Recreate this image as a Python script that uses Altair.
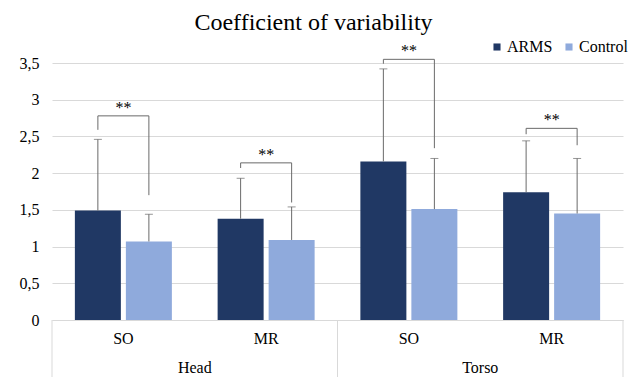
import altair as alt
import pandas as pd

# ---- data ----
regions = ["Head", "Head", "Torso", "Torso"]
measures = ["SO", "MR", "SO", "MR"]
series = ["ARMS", "Control"]
arms_mean = [1.49, 1.38, 2.16, 1.74]
arms_err = [0.97, 0.55, 1.26, 0.70]
control_mean = [1.07, 1.09, 1.51, 1.45]
control_err = [0.37, 0.45, 0.69, 0.75]
bracket_top = [2.78, 2.14, 3.55, 2.61]
bracket_left_bottom = [2.59, 2.07, 3.49, 2.53]
bracket_right_bottom = [1.70, 1.60, 2.34, 2.38]
sig_label = ["**", "**", "**", "**"]
y_ticks = [0, 0.5, 1, 1.5, 2, 2.5, 3, 3.5]

FONT = "Times New Roman"
DARK = "#203864"
LIGHT = "#8faadc"
GRID = "#d9d9d9"
ERR = "#6a6a6a"

cats = [f"{r} {m}" for r, m in zip(regions, measures)]

rows = []
for i, c in enumerate(cats):
    rows.append({"cat": c, "series": "ARMS", "mean": arms_mean[i], "top": arms_mean[i] + arms_err[i]})
    rows.append({"cat": c, "series": "Control", "mean": control_mean[i], "top": control_mean[i] + control_err[i]})
bars_df = pd.DataFrame(rows)

br = []
for i, c in enumerate(cats):
    br.append({"cat": c, "series": "ARMS", "y": bracket_left_bottom[i], "o": 0})
    br.append({"cat": c, "series": "ARMS", "y": bracket_top[i], "o": 1})
    br.append({"cat": c, "series": "Control", "y": bracket_top[i], "o": 2})
    br.append({"cat": c, "series": "Control", "y": bracket_right_bottom[i], "o": 3})
br_df = pd.DataFrame(br)

sig_df = pd.DataFrame({"cat": cats, "y": bracket_top, "label": sig_label})

W, H = 571, 257

x_axis = alt.Axis(title=None, labelExpr="split(datum.label, ' ')[1]", labelAngle=0,
                  ticks=False, domainColor=GRID, labelFont=FONT, labelFontSize=16,
                  labelColor="#000", labelPadding=10)
x_scale = alt.Scale(paddingInner=0, paddingOuter=0)
y_axis = alt.Axis(title=None, values=y_ticks, grid=True, gridColor=GRID,
                  domain=False, ticks=False, labelFont=FONT, labelFontSize=16,
                  labelColor="#000", labelPadding=13, labelOverlap=False,
                  labelExpr="replace(format(datum.value, '~g'), '.', ',')")
y_scale = alt.Scale(domain=[0, 3.5], nice=False, zero=True)


def xs(**kw):
    return alt.X("cat:N", sort=cats, scale=x_scale, axis=x_axis, **kw)


def xos():
    return alt.XOffset("series:N", sort=series,
                       scale=alt.Scale(paddingInner=0.098, paddingOuter=0.4485))


def ys(field):
    return alt.Y(field, scale=y_scale, axis=y_axis)


bars = alt.Chart(bars_df).mark_bar().encode(
    x=xs(),
    xOffset=xos(),
    y=ys("mean:Q"),
    color=alt.Color("series:N", sort=series,
                    scale=alt.Scale(domain=series, range=[DARK, LIGHT]),
                    legend=alt.Legend(title=None, orient="none", legendX=437, legendY=-24,
                                      direction="horizontal", symbolType="square",
                                      symbolSize=50, symbolStrokeWidth=0,
                                      labelFont=FONT, labelFontSize=16, labelColor="#000",
                                      columnPadding=8, labelOffset=2)),
)

err = alt.Chart(bars_df).mark_rule(color=ERR, strokeWidth=1).encode(
    x=xs(), xOffset=xos(), y=ys("mean:Q"), y2="top:Q")

caps = alt.Chart(bars_df).mark_tick(color=ERR, thickness=1, size=8, orient="horizontal").encode(
    x=xs(), xOffset=xos(), y=ys("top:Q"))

brackets = alt.Chart(br_df).mark_line(color=ERR, strokeWidth=1).encode(
    x=xs(), xOffset=xos(), y=ys("y:Q"), order="o:Q", detail="cat:N")

sig = alt.Chart(sig_df).mark_text(font=FONT, fontSize=16, dy=-3, baseline="alphabetic",
                                  color="#000").encode(
    x=xs(), y=ys("y:Q"), text="label:N")

# group separators and group labels under the axis
sep_start_df = pd.DataFrame({"cat": [cats[0], cats[2]]})
sep_end_df = pd.DataFrame({"cat": [cats[3]]})
sep_start = alt.Chart(sep_start_df).mark_rule(color=GRID, strokeWidth=1).encode(
    x=xs(bandPosition=0), y=alt.value(H), y2=alt.value(H + 57))
sep_end = alt.Chart(sep_end_df).mark_rule(color=GRID, strokeWidth=1).encode(
    x=xs(bandPosition=1), y=alt.value(H), y2=alt.value(H + 57))

grp_df = pd.DataFrame({"cat": [cats[0], cats[2]], "label": [regions[0], regions[2]]})
grp = alt.Chart(grp_df).mark_text(font=FONT, fontSize=16, baseline="middle", color="#000").encode(
    x=xs(bandPosition=1), y=alt.value(H + 48), text="label:N")

chart = alt.layer(bars, err, caps, brackets, sig, sep_start, sep_end, grp).properties(
    width=W, height=H,
    title=alt.TitleParams("Coefficient of variability", font=FONT, fontSize=24,
                          fontWeight="normal", color="#000", anchor="middle", dx=-24, offset=4),
    autosize=alt.AutoSizeParams(type="none"),
    padding={"left": 52, "top": 63, "right": 7, "bottom": 59},
).configure(font=FONT).configure_axis(labelFont=FONT).configure_legend(labelFont=FONT
).configure_view(stroke=None)

chart.save("out.html", embed_options={"renderer": "svg", "actions": False})
